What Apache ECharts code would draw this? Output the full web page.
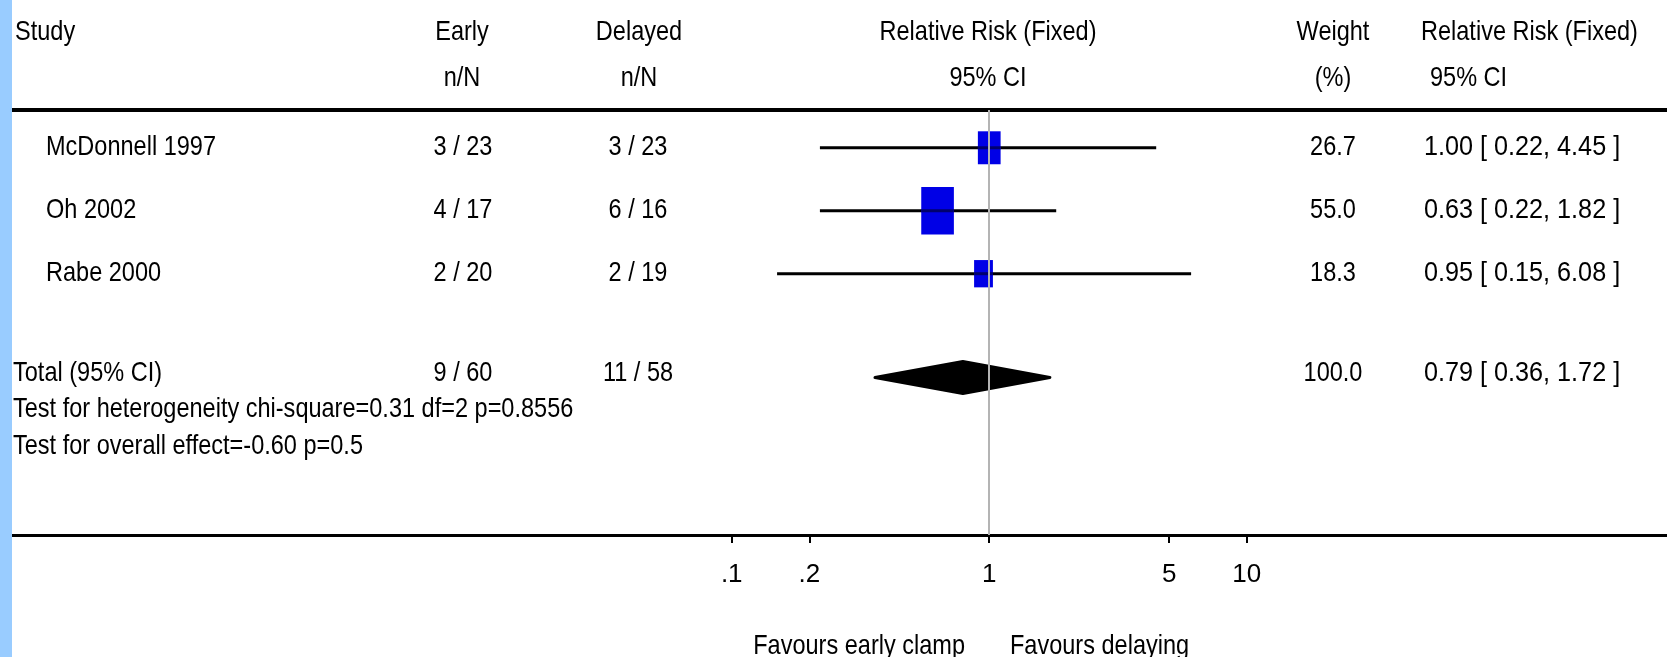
<!DOCTYPE html>
<html>
<head>
<meta charset="utf-8">
<script src="https://cdn.jsdelivr.net/npm/echarts@6/dist/echarts.min.js"></script>
<style>
  html, body { margin: 0; padding: 0; background: #ffffff; }
  #chart { width: 1667px; height: 657px; }
</style>
</head>
<body>
<div id="chart"></div>
<script>
// ---- Data -------------------------------------------------------------
const studies = ['McDonnell 1997', 'Oh 2002', 'Rabe 2000'];
const earlyEvents = ['3 / 23', '4 / 17', '2 / 20'];
const delayedEvents = ['3 / 23', '6 / 16', '2 / 19'];
const relRisk = [1.00, 0.63, 0.95];
const ciLow = [0.22, 0.22, 0.15];
const ciHigh = [4.45, 1.82, 6.08];
const weights = [26.7, 55.0, 18.3];

const totalLabels = ['Total (95% CI)', '9 / 60', '11 / 58'];
const totalRisk = [0.79, 0.36, 1.72];   // estimate, lower, upper
const totalWeight = 100.0;

const heterogeneityText = 'Test for heterogeneity chi-square=0.31 df=2 p=0.8556';
const overallEffectText = 'Test for overall effect=-0.60 p=0.5';

const tickValues = [0.1, 0.2, 1, 5, 10];
const tickLabels = ['.1', '.2', '1', '5', '10'];

// ---- Layout / style ---------------------------------------------------
const FONT = '"Liberation Sans", Arial, sans-serif';
const FS = 28;          // text size
const SX = 0.84;        // horizontal squeeze of the narrow table type
const SX_NUM = 0.9;     // squeeze for the risk / CI column
const X_MIN = -3.795;   // log10 domain of the risk axis
const X_MAX = 2.632;
const TOTAL_GAP = 0.65; // blank space between study rows and total row

const COL = { study: 46, early: 463, delayed: 638, weight: 1333, rr: 1424, left: 13 };

const lg = v => Math.log10(v);
const totalRow = studies.length + TOTAL_GAP;

function txt(x, y, s, align, sx) {
  return {
    type: 'text', x: x, y: y, scaleX: sx || SX,
    style: { text: s, fontFamily: FONT, fontSize: FS, fill: '#000', align: align || 'left', verticalAlign: 'middle' }
  };
}
function ciText(est, lo, hi) {
  return est.toFixed(2) + ' [ ' + lo.toFixed(2) + ', ' + hi.toFixed(2) + ' ]';
}

// forest marks: [log lo, log hi, log est, row, weight, isTotal]
const forestData = studies.map((s, i) => [lg(ciLow[i]), lg(ciHigh[i]), lg(relRisk[i]), i, weights[i], 0]);
forestData.push([lg(totalRisk[1]), lg(totalRisk[2]), lg(totalRisk[0]), totalRow, totalWeight, 1]);

// table rows: [x (unused), row, index]
const tableData = studies.map((s, i) => [0, i, i]);
tableData.push([0, totalRow, -1]);

const chart = echarts.init(document.getElementById('chart'), null, { renderer: 'canvas' });

const option = {
  backgroundColor: '#ffffff',
  animation: false,
  grid: { left: 12, right: 0, top: 110, bottom: 122 },
  xAxis: [
    {
      type: 'value', min: X_MIN, max: X_MAX, position: 'bottom',
      axisLine: { show: true, onZero: false, lineStyle: { color: '#000', width: 3 } },
      axisTick: { show: true, inside: false, length: 8, customValues: tickValues.map(lg), lineStyle: { color: '#000', width: 2 } },
      axisLabel: {
        show: true, customValues: tickValues.map(lg), margin: 27,
        fontFamily: FONT, fontSize: 26, color: '#000',
        formatter: function (v) {
          const k = tickValues.findIndex(t => Math.abs(lg(t) - v) < 1e-6);
          return k >= 0 ? tickLabels[k] : '';
        }
      },
      splitLine: { show: false }
    },
    {
      type: 'value', min: X_MIN, max: X_MAX, position: 'top',
      axisLine: { show: true, onZero: false, lineStyle: { color: '#000', width: 4 } },
      axisTick: { show: false }, axisLabel: { show: false }, splitLine: { show: false }
    }
  ],
  yAxis: {
    type: 'value', inverse: true, min: -0.6, max: 6.15, show: false,
    axisLine: { show: false }, splitLine: { show: false }
  },
  graphic: {
    elements: [
      { type: 'rect', left: 0, top: 0, z: 10, shape: { width: 12, height: 657 }, style: { fill: '#99ccff' } },
      // column headings
      txt(15, 32, 'Study'),
      txt(462, 32, 'Early', 'center'), txt(462, 78, 'n/N', 'center'),
      txt(639, 32, 'Delayed', 'center'), txt(639, 78, 'n/N', 'center'),
      txt(988, 32, 'Relative Risk (Fixed)', 'center'), txt(988, 78, '95% CI', 'center'),
      txt(1333, 32, 'Weight', 'center'), txt(1333, 78, '(%)', 'center'),
      txt(1421, 32, 'Relative Risk (Fixed)'), txt(1430, 78, '95% CI'),
      // favour labels under the axis
      txt(965, 646, 'Favours early clamp', 'right'),
      txt(1010, 646, 'Favours delaying', 'left')
    ]
  },
  series: [
    {
      // line of no effect
      type: 'line', data: [], z: 1, silent: true,
      markLine: {
        silent: true, symbol: 'none', label: { show: false },
        lineStyle: { color: '#b4b4b4', width: 2, type: 'solid' },
        data: [{ xAxis: 0 }]
      }
    },
    {
      type: 'custom', z: 3, data: forestData,
      encode: { x: [0, 1, 2], y: 3 },
      renderItem: function (params, api) {
        const row = api.value(3);
        const pLo = api.coord([api.value(0), row]);
        const pHi = api.coord([api.value(1), row]);
        const pEst = api.coord([api.value(2), row]);
        if (api.value(5) === 1) {
          const hh = 16;
          return {
            type: 'polygon',
            shape: { points: [[pLo[0], pLo[1]], [pEst[0], pEst[1] - hh], [pHi[0], pHi[1]], [pEst[0], pEst[1] + hh]] },
            style: { fill: '#000', stroke: '#000', lineWidth: 3, lineJoin: 'round' }
          };
        }
        const w = 4.4 * Math.sqrt(api.value(4));
        const h = w * 1.45;
        return {
          type: 'group',
          children: [
            { type: 'line', shape: { x1: pLo[0], y1: pLo[1], x2: pHi[0], y2: pHi[1] }, style: { stroke: '#000', lineWidth: 3 } },
            { type: 'rect', shape: { x: pEst[0] - w / 2, y: pEst[1] - h / 2, width: w, height: h }, style: { fill: '#0000e6' } },
            { type: 'line', shape: { x1: pEst[0] - w / 2, y1: pEst[1], x2: pEst[0] + w / 2, y2: pEst[1] }, style: { stroke: '#00006e', lineWidth: 3 } }
          ]
        };
      }
    },
    {
      type: 'custom', z: 4, data: tableData,
      encode: { x: 0, y: 1 },
      renderItem: function (params, api) {
        const y = api.coord([0, api.value(1)])[1];
        const i = api.value(2);
        if (i < 0) {
          const ty = y - 4;
          return {
            type: 'group',
            children: [
              txt(COL.left, ty, totalLabels[0]),
              txt(COL.early, ty, totalLabels[1], 'center'),
              txt(COL.delayed, ty, totalLabels[2], 'center'),
              txt(COL.weight, ty, totalWeight.toFixed(1), 'center'),
              txt(COL.rr, ty, ciText(totalRisk[0], totalRisk[1], totalRisk[2]), 'left', SX_NUM),
              txt(COL.left, y + 32, heterogeneityText),
              txt(COL.left, y + 69, overallEffectText)
            ]
          };
        }
        return {
          type: 'group',
          children: [
            txt(COL.study, y, studies[i]),
            txt(COL.early, y, earlyEvents[i], 'center'),
            txt(COL.delayed, y, delayedEvents[i], 'center'),
            txt(COL.weight, y, weights[i].toFixed(1), 'center'),
            txt(COL.rr, y, ciText(relRisk[i], ciLow[i], ciHigh[i]), 'left', SX_NUM)
          ]
        };
      }
    }
  ]
};

chart.setOption(option);
</script>
</body>
</html>
